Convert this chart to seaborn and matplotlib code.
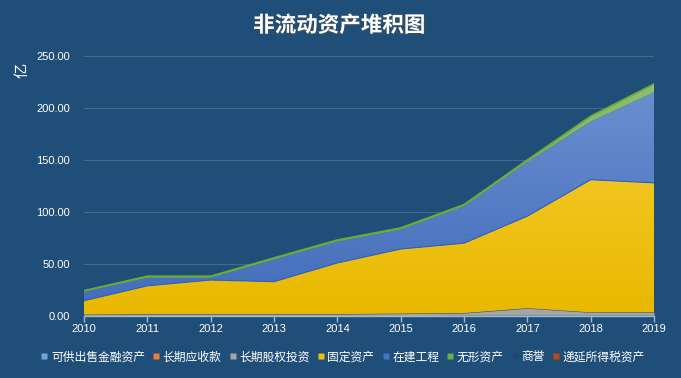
import matplotlib
matplotlib.use("Agg")
import matplotlib.pyplot as plt
import matplotlib.ticker as mticker
import matplotlib.patheffects as pe
from matplotlib.colors import to_rgb
import numpy as np
import seaborn as sns

# ── Data (亿元) ───────────────────────────────────────────────────────
years = [2010, 2011, 2012, 2013, 2014, 2015, 2016, 2017, 2018, 2019]
afs_assets = [0.3, 0.3, 0.3, 0.3, 0.3, 0.3, 0.8, 1.0, 1.0, 1.0]        # 可供出售金融资产
lt_receivables = [0.0, 0.0, 0.0, 0.0, 0.0, 0.0, 0.0, 0.0, 0.0, 0.0]   # 长期应收款
lt_equity = [1.0, 1.5, 1.5, 1.5, 1.5, 2.0, 2.0, 6.5, 2.5, 2.5]        # 长期股权投资
fixed_assets = [13.4, 27.2, 32.8, 31.2, 49.2, 62.1, 67.2, 88.5, 127.5, 124.5]  # 固定资产
construction = [8.6, 7.7, 2.1, 21.3, 20.5, 18.7, 35.5, 52.0, 56.0, 87.0]       # 在建工程
intangibles = [1.0, 1.5, 1.5, 1.5, 1.5, 1.5, 1.5, 2.0, 5.0, 8.0]      # 无形资产
goodwill = [0.0, 0.0, 0.0, 0.0, 0.0, 0.0, 0.0, 0.0, 0.0, 0.0]         # 商誉
deferred_tax = [0.1, 0.1, 0.1, 0.1, 0.1, 0.1, 0.1, 0.1, 0.1, 0.1]     # 递延所得税资产

labels = ["可供出售金融资产", "长期应收款", "长期股权投资", "固定资产",
          "在建工程", "无形资产", "商誉", "递延所得税资产"]
series = [afs_assets, lt_receivables, lt_equity, fixed_assets,
          construction, intangibles, goodwill, deferred_tax]
y_ticks = [0, 50, 100, 150, 200, 250]

# ── Theme ─────────────────────────────────────────────────────────────
BG = "#1f4e79"
TEXT = "#ffffff"
GRID = "#43698f"
COLORS = ["#6fa8dc", "#ed7d31", "#a5a5a5", "#f5c200",
          "#4472c4", "#70ad47", "#264478", "#c0470e"]

sns.set_theme(style="dark")
plt.rcParams.update({
    "figure.facecolor": BG,
    "axes.facecolor": BG,
    "savefig.facecolor": BG,
    "text.color": TEXT,
    "xtick.color": TEXT,
    "ytick.color": TEXT,
})
plt.rcParams["font.family"] = ["Noto Sans CJK SC", "DejaVu Sans"]


def lighten(color, amt):
    r, g, b = to_rgb(color)
    return (r + (1 - r) * amt, g + (1 - g) * amt, b + (1 - b) * amt)


def gradient_fill(ax, poly, color):
    """Vertical gradient (lighter at top) clipped to a stack polygon."""
    top = np.array(lighten(color, 0.22))
    bot = np.array(to_rgb(color)) * 0.95
    grad = np.linspace(0, 1, 256)[:, None, None]
    img = top * grad + bot * (1 - grad)
    img = np.repeat(img, 2, axis=1)
    im = ax.imshow(img, extent=[years[0], years[-1], 0, 230], origin="lower",
                   aspect="auto", zorder=poly.get_zorder() + 0.01)
    im.set_clip_path(poly.get_paths()[0], transform=ax.transData)
    poly.set_alpha(0)


fig = plt.figure(figsize=(6.81, 3.78), dpi=100)
ax = fig.add_axes([0.1233, 0.164, 0.8371, 0.688])

polys = ax.stackplot(years, *series, colors=COLORS, labels=labels, linewidth=0)
for poly, c in zip(polys, COLORS):
    if c in ("#f5c200", "#4472c4", "#70ad47"):
        gradient_fill(ax, poly, c)

# thin edge lines on the main boundaries, as in the original
cum = np.cumsum(np.array(series), axis=0)
ax.plot(years, cum[5], color="#6aaa3a", linewidth=1.3, zorder=5)
ax.plot(years, cum[3], color="#2f5fc4", linewidth=0.8, zorder=5)

ax.set_xlim(years[0], years[-1])
ax.set_ylim(0, 250)
ax.set_xticks(years)
ax.set_yticks(y_ticks)
ax.yaxis.set_major_formatter(mticker.FuncFormatter(lambda v, _: f"{v:.2f}"))
ax.grid(True, axis="y", color=GRID, linewidth=0.8)
ax.grid(False, axis="x")
ax.set_axisbelow(True)
for side in ("top", "right", "left"):
    ax.spines[side].set_visible(False)
ax.spines["bottom"].set_color("#9fb7cf")
ax.spines["bottom"].set_linewidth(1)
ax.spines["bottom"].set_zorder(6)
ax.tick_params(axis="x", length=4, width=1, color="#9fb7cf", labelsize=8, pad=2,
               bottom=True)
ax.tick_params(axis="y", length=0, labelsize=8, pad=10)
for lab in ax.get_xticklabels() + ax.get_yticklabels():
    lab.set_family("Liberation Sans")

fig.text(0.033, 0.815, "亿", rotation=90, fontsize=11, color=TEXT,
         ha="center", va="center")

fig.text(0.498, 0.933, "非流动资产堆积图", fontsize=15.5, fontweight="bold",
         color=TEXT, ha="center", va="center",
         path_effects=[pe.withSimplePatchShadow(offset=(1, -1), alpha=0.6)])

handles = [plt.Line2D([], [], marker="s", linestyle="none", markersize=4.5,
                      markerfacecolor=c, markeredgecolor="none") for c in COLORS]
fig.legend(handles, labels, loc="center", bbox_to_anchor=(0.504, 0.056), ncol=8,
           frameon=False, fontsize=8.5, handlelength=0.5, handletextpad=0.3,
           columnspacing=0.7, labelcolor=TEXT)

fig.savefig("out.png", dpi=100, facecolor=BG)
